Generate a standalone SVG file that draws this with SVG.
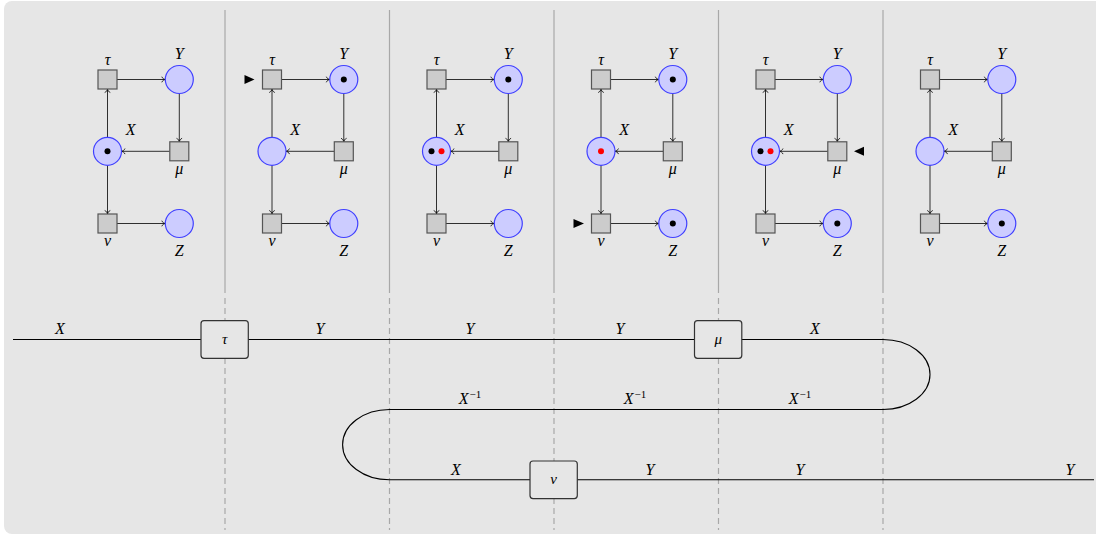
<svg xmlns="http://www.w3.org/2000/svg" width="1096" height="535" viewBox="0 0 1096 535" font-family="'Liberation Serif', 'DejaVu Serif', serif">
<defs>
<marker id="arr" markerUnits="userSpaceOnUse" markerWidth="10" markerHeight="10" refX="0" refY="0" orient="auto" overflow="visible" viewBox="-5 -5 10 10">
<path d="M-3.5,-2.8 C-3,-1 -1,-0.3 0,0 C-1,0.3 -3,1 -3.5,2.8" fill="none" stroke="#000" stroke-width="0.8"/>
</marker>
<style>
text{font-family:'Liberation Serif','DejaVu Serif',serif}
.lbl{font-style:italic;font-size:16px;fill:#000;text-anchor:middle}
.blbl{font-style:italic;font-size:15px;fill:#000;text-anchor:middle}
.sup{font-style:normal;font-size:11px}
.place{fill:#ccccff;stroke:#4040ff;stroke-width:1.2}
.trans{fill:#cccccc;stroke:#555555;stroke-width:1.2}
.edge{stroke:#000;stroke-width:0.8;fill:none;marker-end:url(#arr)}
.tok{fill:#000}
.red{fill:#ff0000}
.sep{stroke:#a8a8a8;stroke-width:1.2}
.dash{stroke:#a8a8a8;stroke-width:1.2;stroke-dasharray:6 4}
.wire{fill:none;stroke:#000;stroke-width:1.1}
.box{fill:#e6e6e6;stroke:#333;stroke-width:1.2}
.tri{fill:#000}
</style>
<g id="net">
<g class="edges">
<line class="edge" x1="117" y1="79.5" x2="165.3" y2="79.5"/>
<line class="edge" x1="179.3" y1="93.5" x2="179.3" y2="141.8"/>
<line class="edge" x1="169.8" y1="151.3" x2="121.5" y2="151.3"/>
<line class="edge" x1="107.5" y1="137.3" x2="107.5" y2="89"/>
<line class="edge" x1="107.5" y1="165.3" x2="107.5" y2="214"/>
<line class="edge" x1="117" y1="223.5" x2="165.3" y2="223.5"/>
</g>
<g class="n-tau"><rect class="trans" x="98" y="70" width="19" height="19"/><text class="lbl" x="107.5" y="65">τ</text></g>
<g class="n-Y"><circle class="place" cx="179.3" cy="79.5" r="14"/><text class="lbl" x="179.3" y="59">Y</text></g>
<g class="n-X"><circle class="place" cx="107.5" cy="151.3" r="14"/><text class="lbl" x="130.7" y="135">X</text></g>
<g class="n-mu"><rect class="trans" x="169.8" y="141.8" width="19" height="19"/><text class="lbl" x="179.3" y="174">μ</text></g>
<g class="n-nu"><rect class="trans" x="98" y="214" width="19" height="19"/><text class="lbl" x="107.5" y="246">ν</text></g>
<g class="n-Z"><circle class="place" cx="179.3" cy="223.5" r="14"/><text class="lbl" x="179.3" y="256">Z</text></g>
</g>
</defs>

<rect x="4" y="1" width="1110" height="533" rx="8" fill="#e6e6e6"/>

<g id="separators">
<line class="sep" x1="225" y1="10" x2="225" y2="293"/>
<line class="sep" x1="389.5" y1="10" x2="389.5" y2="293"/>
<line class="sep" x1="554" y1="10" x2="554" y2="293"/>
<line class="sep" x1="718.5" y1="10" x2="718.5" y2="293"/>
<line class="sep" x1="883" y1="10" x2="883" y2="293"/>
<line class="dash" x1="225" y1="298" x2="225" y2="530"/>
<line class="dash" x1="389.5" y1="298" x2="389.5" y2="530"/>
<line class="dash" x1="554" y1="298" x2="554" y2="530"/>
<line class="dash" x1="718.5" y1="298" x2="718.5" y2="530"/>
<line class="dash" x1="883" y1="298" x2="883" y2="530"/>
</g>

<g id="panel1">
<use href="#net"/>
<circle class="tok" cx="107.5" cy="151.3" r="3"/>
</g>
<g id="panel2" transform="translate(164.5,0)">
<use href="#net"/>
<circle class="tok" cx="179.3" cy="79.5" r="3"/>
<polygon class="tri" points="80,75 90,79.5 80,84"/>
</g>
<g id="panel3" transform="translate(329,0)">
<use href="#net"/>
<circle class="tok" cx="179.3" cy="79.5" r="3"/>
<circle class="tok" cx="102.5" cy="151.3" r="3"/>
<circle class="red" cx="112.5" cy="151.3" r="3"/>
</g>
<g id="panel4" transform="translate(493.5,0)">
<use href="#net"/>
<circle class="tok" cx="179.3" cy="79.5" r="3"/>
<circle class="red" cx="107.5" cy="151.3" r="3"/>
<circle class="tok" cx="179.3" cy="223.5" r="3"/>
<polygon class="tri" points="80,219 90.5,223.5 80,228"/>
</g>
<g id="panel5" transform="translate(658,0)">
<use href="#net"/>
<circle class="tok" cx="102.5" cy="151.3" r="3"/>
<circle class="red" cx="112.5" cy="151.3" r="3"/>
<circle class="tok" cx="179.3" cy="223.5" r="3"/>
<polygon class="tri" points="196,151.3 206,146.8 206,155.8"/>
</g>
<g id="panel6" transform="translate(822.5,0)">
<use href="#net"/>
<circle class="tok" cx="179.3" cy="223.5" r="3"/>
</g>

<g id="wires">
<path class="wire" d="M13,339.5 H883 A47,35 0 0 1 883,409.5 H389.5 A46.7,35 0 0 0 389.5,479.8 H1094"/>
</g>

<g id="box-tau"><rect class="box" x="201" y="320.7" width="47.3" height="37.6" rx="3"/><text class="blbl" x="224.7" y="344">τ</text></g>
<g id="box-mu"><rect class="box" x="694.5" y="320.7" width="47.3" height="37.6" rx="3"/><text class="blbl" x="718.2" y="344">μ</text></g>
<g id="box-nu"><rect class="box" x="530" y="461" width="47.3" height="37.6" rx="3"/><text class="blbl" x="553.7" y="484.3">ν</text></g>

<g id="wire-labels">
<text class="lbl" x="60" y="334">X</text>
<text class="lbl" x="320" y="334">Y</text>
<text class="lbl" x="470" y="334">Y</text>
<text class="lbl" x="620" y="334">Y</text>
<text class="lbl" x="815" y="334">X</text>
<text class="lbl" x="470" y="404">X<tspan class="sup" dx="1" dy="-6">−1</tspan></text>
<text class="lbl" x="635" y="404">X<tspan class="sup" dx="1" dy="-6">−1</tspan></text>
<text class="lbl" x="800" y="404">X<tspan class="sup" dx="1" dy="-6">−1</tspan></text>
<text class="lbl" x="456" y="475">X</text>
<text class="lbl" x="650" y="475">Y</text>
<text class="lbl" x="800" y="475">Y</text>
<text class="lbl" x="1070" y="475">Y</text>
</g>
</svg>
